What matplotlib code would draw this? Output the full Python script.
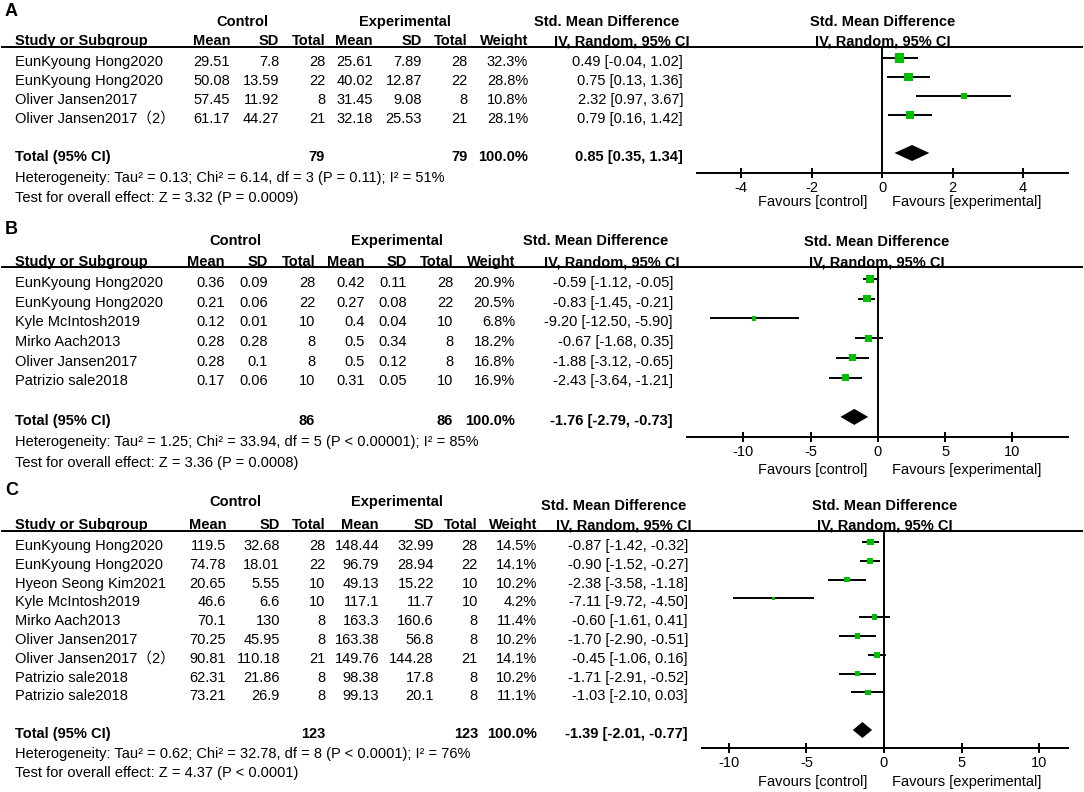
"""Three forest plots (A, B, C): standardised mean difference, random effects."""

import matplotlib
matplotlib.use("Agg")
import matplotlib.pyplot as plt
from matplotlib.lines import Line2D
import numpy as np

plt.rcParams["font.family"] = ["Liberation Sans", "Noto Sans CJK SC", "DejaVu Sans"]
plt.rcParams["axes.unicode_minus"] = False

# ---------------- panel A ----------------
a_names = ["EunKyoung Hong2020", "EunKyoung Hong2020", "Oliver Jansen2017", "Oliver Jansen2017（2）"]
a_ctrl_mean = [29.51, 50.08, 57.45, 61.17]
a_ctrl_sd = [7.8, 13.59, 11.92, 44.27]
a_ctrl_n = [28, 22, 8, 21]
a_exp_mean = [25.61, 40.02, 31.45, 32.18]
a_exp_sd = [7.89, 12.87, 9.08, 25.53]
a_exp_n = [28, 22, 8, 21]
a_weight = [32.3, 28.8, 10.8, 28.1]
a_smd = [0.49, 0.75, 2.32, 0.79]
a_lo = [-0.04, 0.13, 0.97, 0.16]
a_hi = [1.02, 1.36, 3.67, 1.42]
a_total = [0.85, 0.35, 1.34]
a_total_n = [79, 79]
a_total_w = 100.0
a_ticks = [-4, -2, 0, 2, 4]
a_het = "Heterogeneity: Tau² = 0.13; Chi² = 6.14, df = 3 (P = 0.11); I² = 51%"
a_test = "Test for overall effect: Z = 3.32 (P = 0.0009)"

# ---------------- panel B ----------------
b_names = ["EunKyoung Hong2020", "EunKyoung Hong2020", "Kyle McIntosh2019",
           "Mirko Aach2013", "Oliver Jansen2017", "Patrizio sale2018"]
b_ctrl_mean = [0.36, 0.21, 0.12, 0.28, 0.28, 0.17]
b_ctrl_sd = [0.09, 0.06, 0.01, 0.28, 0.1, 0.06]
b_ctrl_n = [28, 22, 10, 8, 8, 10]
b_exp_mean = [0.42, 0.27, 0.4, 0.5, 0.5, 0.31]
b_exp_sd = [0.11, 0.08, 0.04, 0.34, 0.12, 0.05]
b_exp_n = [28, 22, 10, 8, 8, 10]
b_weight = [20.9, 20.5, 6.8, 18.2, 16.8, 16.9]
b_smd = [-0.59, -0.83, -9.20, -0.67, -1.88, -2.43]
b_lo = [-1.12, -1.45, -12.50, -1.68, -3.12, -3.64]
b_hi = [-0.05, -0.21, -5.90, 0.35, -0.65, -1.21]
b_total = [-1.76, -2.79, -0.73]
b_total_n = [86, 86]
b_total_w = 100.0
b_ticks = [-10, -5, 0, 5, 10]
b_het = "Heterogeneity: Tau² = 1.25; Chi² = 33.94, df = 5 (P < 0.00001); I² = 85%"
b_test = "Test for overall effect: Z = 3.36 (P = 0.0008)"

# ---------------- panel C ----------------
c_names = ["EunKyoung Hong2020", "EunKyoung Hong2020", "Hyeon Seong Kim2021",
           "Kyle McIntosh2019", "Mirko Aach2013", "Oliver Jansen2017",
           "Oliver Jansen2017（2）", "Patrizio sale2018", "Patrizio sale2018"]
c_ctrl_mean = [119.5, 74.78, 20.65, 46.6, 70.1, 70.25, 90.81, 62.31, 73.21]
c_ctrl_sd = [32.68, 18.01, 5.55, 6.6, 130, 45.95, 110.18, 21.86, 26.9]
c_ctrl_n = [28, 22, 10, 10, 8, 8, 21, 8, 8]
c_exp_mean = [148.44, 96.79, 49.13, 117.1, 163.3, 163.38, 149.76, 98.38, 99.13]
c_exp_sd = [32.99, 28.94, 15.22, 11.7, 160.6, 56.8, 144.28, 17.8, 20.1]
c_exp_n = [28, 22, 10, 10, 8, 8, 21, 8, 8]
c_weight = [14.5, 14.1, 10.2, 4.2, 11.4, 10.2, 14.1, 10.2, 11.1]
c_smd = [-0.87, -0.90, -2.38, -7.11, -0.60, -1.70, -0.45, -1.71, -1.03]
c_lo = [-1.42, -1.52, -3.58, -9.72, -1.61, -2.90, -1.06, -2.91, -2.10]
c_hi = [-0.32, -0.27, -1.18, -4.50, 0.41, -0.51, 0.16, -0.52, 0.03]
c_total = [-1.39, -2.01, -0.77]
c_total_n = [123, 123]
c_total_w = 100.0
c_ticks = [-10, -5, 0, 5, 10]
c_het = "Heterogeneity: Tau² = 0.62; Chi² = 32.78, df = 8 (P < 0.0001); I² = 76%"
c_test = "Test for overall effect: Z = 4.37 (P < 0.0001)"

W, H = 1084, 792
FS = 10.5
GREEN = "#00BF00"
LW = 1.4

fig = plt.figure(figsize=(W / 100, H / 100), dpi=100)


def fx(px):
    return px / W


def fy(py):
    return 1 - py / H


def put(x, y, s, ha="left", bold=False, size=FS):
    fig.text(fx(x), fy(y), s, ha=ha, va="center", fontsize=size,
             fontweight="bold" if bold else "normal")


def draw_panel(letter, d, lay):
    n = len(d["names"])
    sp = lay["sp"]
    rows = np.arange(n)
    text_y = lay["row0"] + rows * sp
    total_y = lay["row0"] + (n + 1) * sp
    cols = lay["cols"]  # right edges: cm, csd, cn, em, esd, en, w, ci

    put(5, lay["letter_y"], letter, bold=True, size=13)
    put(lay["ctrl_x"], lay["group_y"], "Control", ha="center", bold=True)
    put(lay["exp_x"], lay["group_y"], "Experimental", ha="center", bold=True)
    put(lay["smd_x"], lay["smd_y"], "Std. Mean Difference", ha="center", bold=True)

    hy = lay["head_y"]
    put(15, hy, "Study or Subgroup", bold=True)
    for x, s in zip(cols[:7], ["Mean", "SD", "Total", "Mean", "SD", "Total", "Weight"]):
        put(x, hy, s, ha="right", bold=True)
    put(cols[7] + lay["ci_head_dx"], hy, "IV, Random, 95% CI", ha="right", bold=True)
    fig.add_artist(Line2D([fx(2), fx(1082)], [fy(lay["line_y"])] * 2,
                          color="black", lw=LW))

    for i in range(n):
        y = text_y[i]
        put(15, y, d["names"][i])
        vals = [f"{d['cm'][i]:g}", f"{d['csd'][i]:g}", f"{d['cn'][i]}",
                f"{d['em'][i]:g}", f"{d['esd'][i]:g}", f"{d['en'][i]}",
                f"{d['w'][i]:.1f}%",
                f"{d['smd'][i]:.2f} [{d['lo'][i]:.2f}, {d['hi'][i]:.2f}]"]
        for x, s in zip(cols, vals):
            put(x, y, s, ha="right")

    est, tlo, thi = d["total"]
    put(15, total_y, "Total (95% CI)", bold=True)
    put(cols[2], total_y, str(d["total_n"][0]), ha="right", bold=True)
    put(cols[5], total_y, str(d["total_n"][1]), ha="right", bold=True)
    put(cols[6], total_y, f"{d['total_w']:.1f}%", ha="right", bold=True)
    put(cols[7], total_y, f"{est:.2f} [{tlo:.2f}, {thi:.2f}]", ha="right", bold=True)
    put(15, total_y + lay["het_dy"], d["het"])
    put(15, total_y + lay["test_dy"], d["test"])

    # forest plot
    left, right = lay["ax_x"]
    top, bottom = lay["line_y"], lay["axis_y"]
    ax = fig.add_axes([fx(left), fy(bottom), (right - left) / W, (bottom - top) / H])
    ax.patch.set_alpha(0)
    sq0 = lay["row0"] - 4
    ax.set_ylim((bottom - sq0) / sp, (top - sq0) / sp)
    ax.set_xlim(*lay["xlim"])
    for s in ["top", "right", "left"]:
        ax.spines[s].set_visible(False)
    ax.spines["bottom"].set_linewidth(LW)
    ax.set_yticks([])
    ax.set_xticks(d["ticks"])
    ax.set_xticklabels([str(t) for t in d["ticks"]], fontsize=FS)
    ax.tick_params(axis="x", direction="inout", length=7, width=LW, pad=2.5)

    ax.axvline(0, color="black", lw=LW)
    ax.hlines(rows, d["lo"], d["hi"], color="black", lw=LW)
    side_pt = 1.65 * np.sqrt(np.array(d["w"])) * 0.72
    ax.scatter(d["smd"], rows, marker="s", s=side_pt ** 2, color=GREEN,
               linewidths=0, zorder=3)
    h = 8 / sp
    tr = n + 1
    ax.fill([tlo, est, thi, est], [tr, tr - h, tr, tr + h], color="black", lw=0)

    put(lay["rsmd_x"], lay["smd_y2"], "Std. Mean Difference", ha="center", bold=True)
    put(lay["rsmd_x"], hy, "IV, Random, 95% CI", ha="center", bold=True)
    put(813, lay["fav_y"], "Favours [control]", ha="center")
    put(967, lay["fav_y"], "Favours [experimental]", ha="center")


panels = [
    ("A",
     dict(names=a_names, cm=a_ctrl_mean, csd=a_ctrl_sd, cn=a_ctrl_n, em=a_exp_mean,
          esd=a_exp_sd, en=a_exp_n, w=a_weight, smd=a_smd, lo=a_lo, hi=a_hi,
          total=a_total, total_n=a_total_n, total_w=a_total_w, ticks=a_ticks,
          het=a_het, test=a_test),
     dict(letter_y=12, group_y=22, smd_y=22, smd_y2=22, head_y=41, line_y=47,
          row0=62, sp=19.0, axis_y=173, fav_y=202, het_dy=21, test_dy=41,
          ctrl_x=242, exp_x=405, smd_x=607, rsmd_x=883, ci_head_dx=7,
          cols=[230, 279, 325, 373, 422, 468, 528, 683],
          ax_x=(697, 1068), xlim=(-5.26, 5.28))),
    ("B",
     dict(names=b_names, cm=b_ctrl_mean, csd=b_ctrl_sd, cn=b_ctrl_n, em=b_exp_mean,
          esd=b_exp_sd, en=b_exp_n, w=b_weight, smd=b_smd, lo=b_lo, hi=b_hi,
          total=b_total, total_n=b_total_n, total_w=b_total_w, ticks=b_ticks,
          het=b_het, test=b_test),
     dict(letter_y=230, group_y=241, smd_y=241, smd_y2=242, head_y=262, line_y=267,
          row0=283, sp=19.7, axis_y=437, fav_y=470, het_dy=21, test_dy=42,
          ctrl_x=235, exp_x=397, smd_x=596, rsmd_x=877, ci_head_dx=7,
          cols=[225, 268, 315, 365, 407, 453, 515, 673],
          ax_x=(687, 1068), xlim=(-14.2, 14.13))),
    ("C",
     dict(names=c_names, cm=c_ctrl_mean, csd=c_ctrl_sd, cn=c_ctrl_n, em=c_exp_mean,
          esd=c_exp_sd, en=c_exp_n, w=c_weight, smd=c_smd, lo=c_lo, hi=c_hi,
          total=c_total, total_n=c_total_n, total_w=c_total_w, ticks=c_ticks,
          het=c_het, test=c_test),
     dict(letter_y=490, group_y=502, smd_y=506, smd_y2=506, head_y=525, line_y=531,
          row0=546, sp=18.8, axis_y=748, fav_y=782, het_dy=20, test_dy=39,
          ctrl_x=235, exp_x=397, smd_x=614, rsmd_x=885, ci_head_dx=4,
          cols=[226, 280, 325, 379, 434, 478, 537, 688],
          ax_x=(702, 1068), xlim=(-11.74, 11.87))),
]

for letter, d, lay in panels:
    draw_panel(letter, d, lay)

fig.savefig("out.png", dpi=100)
